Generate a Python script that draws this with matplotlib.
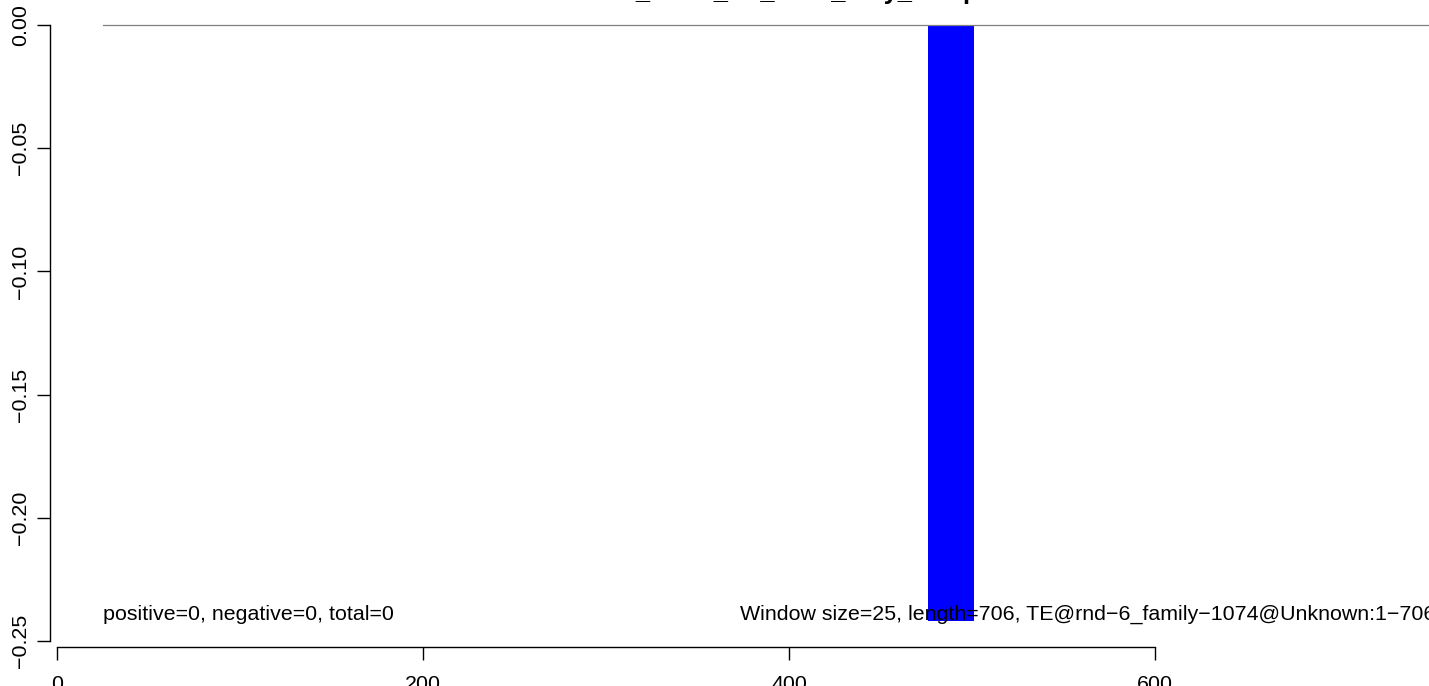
import matplotlib
matplotlib.use("Agg")
import matplotlib.pyplot as plt
import numpy as np

# Data
win_start = [476]              # window start positions
win_score = [-0.242]           # score of each window
win_size = 25
seq_length = 706
baseline_x = [25, 780]         # grey zero line span
x_ticks = [0, 200, 400, 600]
y_ticks = [0.00, -0.05, -0.10, -0.15, -0.20, -0.25]

title = "Unknown_rnd-6_TE_1074_only_sample"
left_note = "positive=0, negative=0, total=0"
right_note = ("Window size=%d, length=%d, TE@rnd\u22126_family\u22121074@Unknown:1\u2212%d"
              % (win_size, seq_length, seq_length))

plt.rcParams['font.family'] = ['Liberation Sans', 'DejaVu Sans']
W, H = 1429, 686
fig = plt.figure(figsize=(W / 100, H / 100), dpi=100)

# plot region as in the R device (partly outside the cropped picture)
left, right, bottom, top = 50, 1473, 647, 1
ax = fig.add_axes([left / W, (H - bottom) / H, (right - left) / W, (bottom - top) / H])
ax.set_xlim(-3.8, 773.8)
ax.set_ylim(-0.2524, 0.0097)

ax.plot(baseline_x, [0, 0], color='#808080', lw=0.9)
ax.bar(win_start, win_score, width=win_size, align='edge', color='blue', lw=0)

fs = 15.4
ax.text(25, -0.2415, left_note, fontsize=fs, va='baseline', ha='left')
ax.text(373, -0.2415, right_note, fontsize=fs, va='baseline', ha='left')

for s in ['top', 'right']:
    ax.spines[s].set_visible(False)
ax.spines['left'].set_bounds(-0.25, 0)
ax.spines['bottom'].set_bounds(0, 600)
ax.spines['left'].set_linewidth(1.0)
ax.spines['bottom'].set_linewidth(1.0)

ax.set_xticks(x_ticks)
ax.set_xticklabels([str(t) for t in x_ticks])
ax.set_yticks(y_ticks)
ax.set_yticklabels([f"{t:.2f}".replace('-', '\u2212') for t in y_ticks],
                   rotation=90, va='center')
ax.tick_params(axis='both', length=9.4, width=1.0, labelsize=fs, direction='out')
ax.tick_params(axis='x', pad=11)
ax.tick_params(axis='y', pad=5)

fig.text(761 / W, 1 + 1.0 / H, title, ha='center', va='baseline',
         fontsize=18.4, fontweight='bold')

fig.savefig("out.png", dpi=100)
